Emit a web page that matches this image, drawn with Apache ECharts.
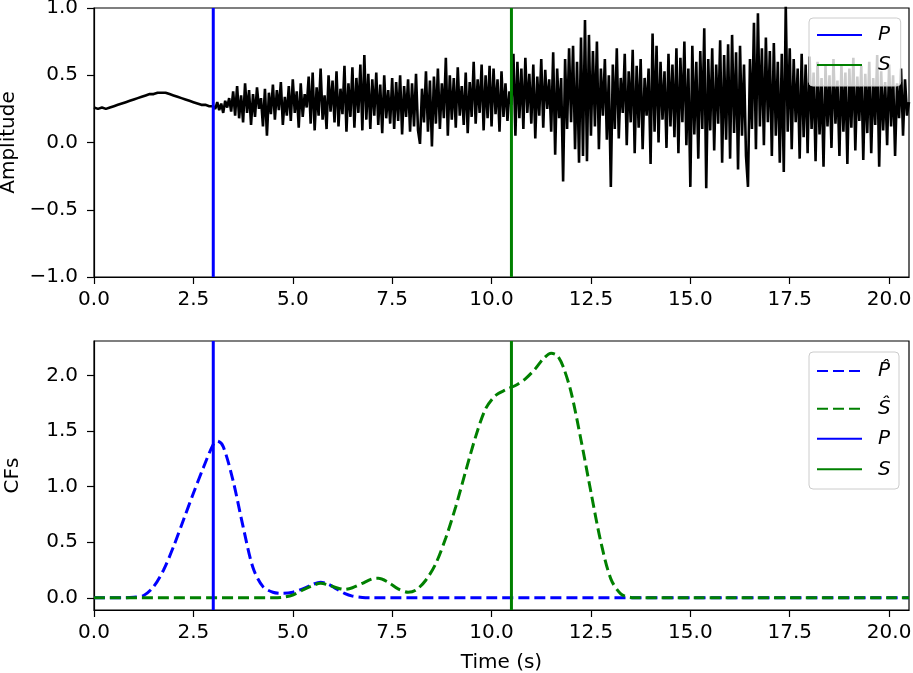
<!DOCTYPE html>
<html><head><meta charset="utf-8">
<script src="https://cdn.jsdelivr.net/npm/echarts@6/dist/echarts.min.js"></script>
<style>html,body{margin:0;padding:0;background:#fff}#c{width:913px;height:673px}</style>
</head><body><div id="c"></div>
<script>
// ---- data ----
const xTicks = [0, 2.5, 5, 7.5, 10, 12.5, 15, 17.5, 20];
const ampTicks = [-1, -0.5, 0, 0.5, 1];
const cfTicks = [0, 0.5, 1, 1.5, 2];
const pickP = 3.0;
const pickS = 10.5;
// amplitude before P (every 0.1 s from 0 s)
const ampPreStart = 0, ampPreDt = 0.1;
const ampPre = [0.26,0.25,0.26,0.25,0.26,0.27,0.28,0.29,0.30,0.31,
                0.32,0.33,0.34,0.35,0.36,0.36,0.37,0.37,0.37,0.36,
                0.35,0.34,0.33,0.32,0.31,0.30,0.29,0.28,0.28,0.27];
// amplitude from P onward (every 0.05 s from 3.0 s)
const ampPostStart = 3.0, ampPostDt = 0.05;
const ampPost = [
0.27,0.25,0.30,0.24,0.29,0.22,0.31,0.26,0.33,0.23,
0.38,0.20,0.42,0.18,0.35,0.15,0.44,0.22,0.39,0.13,
0.36,0.19,0.41,0.25,0.33,0.12,0.40,0.05,0.37,0.21,
0.43,0.17,0.39,0.24,0.45,0.13,0.34,0.20,0.42,0.16,
0.47,0.22,0.38,0.11,0.44,0.19,0.36,0.26,0.49,0.14,
0.52,0.09,0.41,0.20,0.55,0.17,0.35,0.10,0.50,0.23,
0.46,0.15,0.53,0.12,0.40,0.21,0.57,0.08,0.44,0.19,
0.56,0.11,0.48,0.22,0.58,0.09,0.65,0.17,0.51,0.10,
0.47,0.20,0.52,0.13,0.43,0.07,0.50,0.18,0.39,0.14,
0.48,0.10,0.45,0.16,0.50,0.06,0.42,0.19,0.47,0.08,
0.44,0.12,0.51,0.09,-0.01,0.40,0.15,0.53,0.08,0.46,
-0.03,0.49,0.14,0.55,0.10,0.44,0.18,0.63,0.05,0.50,
0.17,0.48,0.11,0.56,0.20,0.42,0.13,0.52,0.07,0.45,
0.19,0.60,0.14,0.47,0.22,0.58,0.09,0.50,0.18,0.57,
0.12,0.55,0.21,0.47,0.08,0.53,0.19,0.44,0.16,0.38,
0.28,0.66,0.05,0.60,0.18,0.55,0.10,0.63,0.22,0.51,
0.14,0.58,0.03,0.49,0.20,0.62,0.11,0.54,0.25,0.47,
0.08,0.67,-0.09,0.55,0.18,0.48,-0.29,0.62,0.10,0.70,
0.15,0.72,-0.05,0.60,-0.15,0.78,-0.10,0.91,-0.14,0.80,
0.05,0.68,0.12,0.75,-0.05,0.55,0.20,0.62,0.02,0.50,
-0.33,0.58,0.10,0.70,0.03,0.48,0.22,0.66,-0.02,0.53,
0.15,0.69,-0.08,0.57,0.11,0.62,-0.05,0.48,0.20,0.55,
-0.16,0.81,0.08,0.72,0.00,0.60,0.17,0.53,-0.04,0.66,
0.12,0.58,0.04,0.70,-0.08,0.63,0.15,0.75,-0.02,0.55,
-0.33,0.72,0.06,0.60,-0.12,0.68,0.10,0.85,-0.34,0.62,
0.09,0.70,-0.06,0.58,0.14,0.76,-0.15,0.65,0.02,0.73,
-0.12,0.80,0.07,0.67,-0.20,0.72,0.05,0.58,-0.10,-0.33,
0.62,0.10,0.89,-0.05,0.96,0.12,0.70,-0.02,0.78,0.15,
0.68,-0.10,0.74,0.05,0.60,-0.15,0.66,-0.22,1.02,0.08,
0.70,-0.05,0.62,0.15,0.55,-0.12,0.66,0.04,0.58,-0.08,
0.64,0.10,0.52,-0.14,0.60,0.06,0.48,-0.18,0.57,0.12,
0.50,-0.04,0.62,0.14,0.46,-0.10,0.58,0.08,0.52,-0.16,
0.55,0.11,0.63,-0.06,0.49,0.16,0.57,-0.13,0.51,0.07,
0.60,-0.08,0.48,0.13,0.65,-0.18,0.53,0.09,0.45,-0.02,
0.58,0.12,0.50,-0.10,0.44,0.18,0.55,0.05,0.47,0.20,
0.30];
// characteristic functions
const cfPTimes = [0,0.75,1.0,1.25,1.5,1.75,2.0,2.25,2.5,2.75,3.0,3.1,3.25,3.5,3.75,4.0,4.25,4.5,4.75,5.0,5.25,5.5,5.7,5.9,6.1,6.3,6.5,6.75,7.0,20.5];
const cfP      = [0,0,0.005,0.02,0.10,0.25,0.46,0.70,0.94,1.17,1.38,1.41,1.36,1.05,0.64,0.27,0.10,0.05,0.04,0.05,0.08,0.12,0.14,0.12,0.08,0.04,0.015,0.003,0,0];
const cfSTimes = [0,4.5,4.75,5.0,5.25,5.5,5.7,5.9,6.1,6.3,6.5,6.75,7.0,7.15,7.4,7.65,7.9,8.1,8.35,8.6,8.85,9.1,9.35,9.6,9.85,10.1,10.35,10.6,10.85,11.1,11.3,11.5,11.65,11.8,12.0,12.25,12.5,12.75,13.0,13.25,13.5,13.75,20.5];
const cfS      = [0,0,0.005,0.025,0.07,0.11,0.13,0.115,0.09,0.075,0.09,0.13,0.17,0.175,0.14,0.08,0.05,0.07,0.16,0.31,0.54,0.82,1.14,1.45,1.70,1.82,1.87,1.91,1.97,2.06,2.15,2.20,2.18,2.08,1.85,1.42,0.95,0.50,0.17,0.035,0.003,0,0];

// ---- build ----
const X_MIN = 0, X_MAX = 20.5;
const AMP_MIN = -1, AMP_MAX = 1;
const CF_MIN = -0.11, CF_MAX = 2.31;
const FONT = 'DejaVu Sans';
const BLUE = '#0000ff', GREEN = '#008000';

const ampData = [];
ampPre.forEach((v, i) => ampData.push([+(ampPreStart + i * ampPreDt).toFixed(3), v]));
ampPost.forEach((v, i) => ampData.push([+(ampPostStart + i * ampPostDt).toFixed(3), v]));
const zip = (t, v) => t.map((x, i) => [x, v[i]]);
const fmt = v => v.toFixed(1).replace('-', '\u2212');

function xAxis(grid, name) {
  return {
    type: 'value', gridIndex: grid, min: X_MIN, max: X_MAX,
    name: name || '', nameLocation: 'middle', nameGap: 43,
    nameTextStyle: { fontFamily: FONT, fontSize: 20, color: '#000' },
    axisLine: { show: true, onZero: false, lineStyle: { color: '#000', width: 1.2 } },
    axisTick: { show: true, customValues: xTicks, length: 7, lineStyle: { color: '#000', width: 1.2 } },
    axisLabel: { customValues: xTicks, formatter: fmt, fontFamily: FONT, fontSize: 20, color: '#000', margin: 13 },
    splitLine: { show: false }
  };
}
function yAxis(grid, name, mn, mx, ticks) {
  return {
    type: 'value', gridIndex: grid, min: mn, max: mx,
    name: name, nameLocation: 'middle', nameGap: 71,
    nameTextStyle: { fontFamily: FONT, fontSize: 20, color: '#000' },
    axisLine: { show: true, onZero: false, lineStyle: { color: '#000', width: 1.2 } },
    axisTick: { show: true, customValues: ticks, length: 7, lineStyle: { color: '#000', width: 1.2 } },
    axisLabel: { customValues: ticks, formatter: fmt, fontFamily: FONT, fontSize: 20, color: '#000', margin: 16 },
    splitLine: { show: false }
  };
}
const legendText = { fontFamily: FONT, fontSize: 20, fontStyle: 'italic', color: '#000', lineHeight: 20, padding: [0, 0, 0, 11] };
const legendCommon = { orient: 'vertical', itemWidth: 45, itemHeight: 14, selectedMode: false, textStyle: legendText,
  itemStyle: { opacity: 0, borderWidth: 0 } };
const gridCommon = { left: 94, width: 815, height: 269, show: true, borderColor: '#000', borderWidth: 1.2,
  backgroundColor: 'transparent', containLabel: false, outerBoundsMode: 'none' };

const option = {
  animation: false,
  backgroundColor: '#fff',
  grid: [
    Object.assign({ top: 8 }, gridCommon),
    Object.assign({ top: 341 }, gridCommon)
  ],
  xAxis: [xAxis(0), xAxis(1, 'Time (s)')],
  yAxis: [yAxis(0, 'Amplitude', AMP_MIN, AMP_MAX, ampTicks), yAxis(1, 'CFs', CF_MIN, CF_MAX, cfTicks)],
  legend: [
    Object.assign({ data: ['P', 'S'], left: 809, top: 18, padding: [7, 10, 11, 7], itemGap: 10,
      backgroundColor: 'rgba(255,255,255,0.8)', borderColor: '#cccccc', borderWidth: 1, borderRadius: 4 }, legendCommon),
    Object.assign({ data: ['P\u0302', 'S\u0302'], left: 816, top: 361, padding: 0, itemGap: 17.7 }, legendCommon),
    Object.assign({ data: ['P', 'S'], left: 816, top: 428.7, padding: 0, itemGap: 10.6 }, legendCommon)
  ],
  graphic: [{ type: 'rect', z: 3, shape: { x: 809, y: 352, width: 90, height: 137, r: 4 },
    style: { fill: 'rgba(255,255,255,0.8)', stroke: '#cccccc', lineWidth: 1 } }],
  series: [
    { name: 'amp', type: 'line', xAxisIndex: 0, yAxisIndex: 0, data: ampData, showSymbol: false, symbol: 'none',
      lineStyle: { color: '#000', width: 2.6 }, itemStyle: { color: '#000' }, z: 2 },
    { name: 'P', type: 'line', xAxisIndex: 0, yAxisIndex: 0, data: [[pickP, AMP_MIN], [pickP, AMP_MAX]], symbol: 'none',
      lineStyle: { color: BLUE, width: 3 }, itemStyle: { color: BLUE }, z: 3 },
    { name: 'S', type: 'line', xAxisIndex: 0, yAxisIndex: 0, data: [[pickS, AMP_MIN], [pickS, AMP_MAX]], symbol: 'none',
      lineStyle: { color: GREEN, width: 3 }, itemStyle: { color: GREEN }, z: 3 },
    { name: 'P\u0302', type: 'line', xAxisIndex: 1, yAxisIndex: 1, data: zip(cfPTimes, cfP), symbol: 'none', smooth: 0.3,
      lineStyle: { color: BLUE, width: 3, type: [11, 5] }, itemStyle: { color: BLUE }, z: 2 },
    { name: 'S\u0302', type: 'line', xAxisIndex: 1, yAxisIndex: 1, data: zip(cfSTimes, cfS), symbol: 'none', smooth: 0.3,
      lineStyle: { color: GREEN, width: 3, type: [11, 5] }, itemStyle: { color: GREEN }, z: 2 },
    { name: 'P', type: 'line', xAxisIndex: 1, yAxisIndex: 1, data: [[pickP, CF_MIN], [pickP, CF_MAX]], symbol: 'none',
      lineStyle: { color: BLUE, width: 3 }, itemStyle: { color: BLUE }, z: 3 },
    { name: 'S', type: 'line', xAxisIndex: 1, yAxisIndex: 1, data: [[pickS, CF_MIN], [pickS, CF_MAX]], symbol: 'none',
      lineStyle: { color: GREEN, width: 3 }, itemStyle: { color: GREEN }, z: 3 }
  ]
};
const chart = echarts.init(document.getElementById('c'), null, { renderer: 'canvas' });
chart.setOption(option);
</script>
</body></html>
